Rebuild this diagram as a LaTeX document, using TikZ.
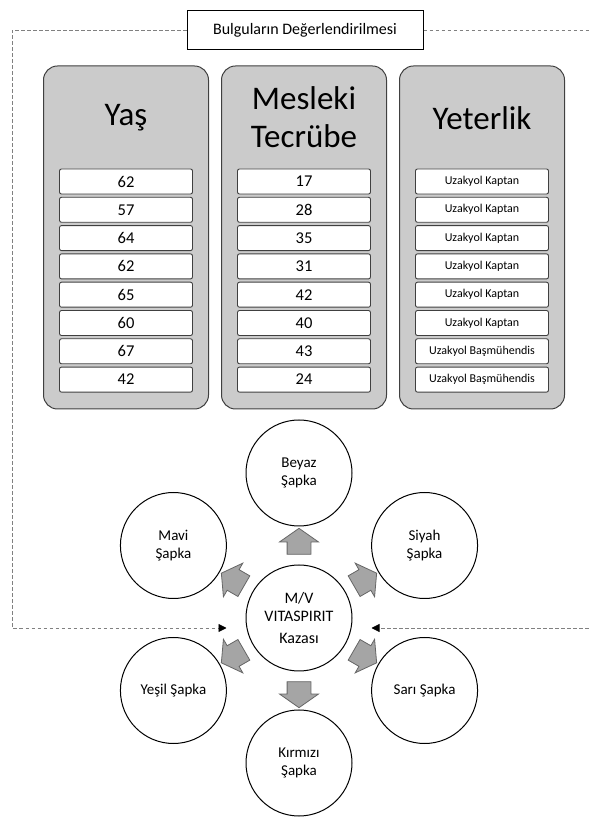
\documentclass[tikz,border=0pt]{standalone}
\usepackage{fontspec}
\setmainfont{Carlito}
\usetikzlibrary{arrows.meta, positioning, calc, shapes.arrows}
\definecolor{hgray}{HTML}{CBCBCB}
\definecolor{hdark}{HTML}{404040}
\definecolor{harrow}{HTML}{A5A5A5}
\definecolor{hdash}{HTML}{808080}

\begin{document}
\begin{tikzpicture}[x=1pt, y=1pt,
  colbox/.style={draw=hdark, fill=hgray, line width=1pt, rounded corners=14pt,
    minimum width=165pt, minimum height=343pt},
  colhead/.style={font=\fontsize{33}{38}\selectfont, align=center},
  valbox/.style={draw=hdark, fill=white, line width=0.9pt, rounded corners=2pt,
    minimum width=133pt, minimum height=25pt, inner sep=0pt,
    font=\fontsize{16.5}{18}\selectfont},
  hat/.style={circle, draw=black, line width=1pt, minimum size=106pt, inner sep=0pt,
    align=center, font=\fontsize{15}{18}\selectfont},
  blockarrow/.style={single arrow, draw=hdark!80, fill=harrow, line width=0.8pt,
    minimum height=26pt, single arrow head extend=7.5pt, single arrow tip angle=110,
    inner xsep=0pt, inner ysep=11.5pt, text height=0pt, text depth=0pt},
  feedback/.style={hdash, line width=0.8pt, dash pattern=on 3.5pt off 2.5pt,
    -{Triangle[length=8pt, width=8pt, color=black]}}]
\useasboundingbox (0,0) rectangle (590,823);
\clip (0,0) rectangle (590,823);

% header
\node[draw=black, line width=1pt, fill=white, minimum width=236pt, minimum height=39pt,
  font=\fontsize{16}{19}\selectfont] (title) at (305,793) {Bulguların Değerlendirilmesi};

% three columns
\node[colbox] (age) at (126,585.5) {};
\node[colbox] (exp) at (304,585.5) {};
\node[colbox] (cert) at (482,585.5) {};
\node[colhead] (agehead) at (126,705) {Yaş};
\node[colhead] (exphead) at (304,706) {Mesleki\\Tecrübe};
\node[colhead] (certhead) at (482,705) {Yeterlik};

\foreach \v [count=\i from 0] in {62,57,64,62,65,60,67,42}
  \node[valbox] (age\i) at (126,{641.5-28.3*\i}) {\v};
\foreach \v [count=\i from 0] in {17,28,35,31,42,40,43,24}
  \node[valbox] (exp\i) at (304,{641.5-28.3*\i}) {\v};
\foreach \v [count=\i from 0] in {Uzakyol Kaptan,Uzakyol Kaptan,Uzakyol Kaptan,
    Uzakyol Kaptan,Uzakyol Kaptan,Uzakyol Kaptan,Uzakyol Başmühendis,Uzakyol Başmühendis}
  \node[valbox, font=\fontsize{12}{14}\selectfont] (cert\i) at (482,{641.5-28.3*\i}) {\v};

% six hats
\node[hat, font=\fontsize{16}{18}\selectfont] (crash) at (299,205) {M/V\\VITASPIRIT\\[4pt]Kazası};
\node[hat] (white) at ($(crash)+(90:145)$) {Beyaz\\Şapka};
\node[hat] (black) at ($(crash)+(30:145)$) {Siyah\\Şapka};
\node[hat] (blue) at ($(crash)+(150:145)$) {Mavi\\Şapka};
\node[hat] (green) at ($(crash)+(210:145)$) {Yeşil Şapka};
\node[hat] (yellow) at ($(crash)+(330:145)$) {Sarı Şapka};
\node[hat] (red) at ($(crash)+(270:145)$) {Kırmızı\\Şapka};

\foreach \h/\a in {white/90, black/30, blue/150, green/210, yellow/330, red/270}
  \node[blockarrow, rotate=\a] (arr\h) at ($(crash)!0.5!(\h)$) {};

% feedback loop
\draw[feedback] (title.west) -| (12,195) -- ([shift={(-19,-10)}]crash.west);
\draw[feedback] (title.east) -| (597,195) -- ([shift={(19,-10)}]crash.east);
\end{tikzpicture}
\end{document}
